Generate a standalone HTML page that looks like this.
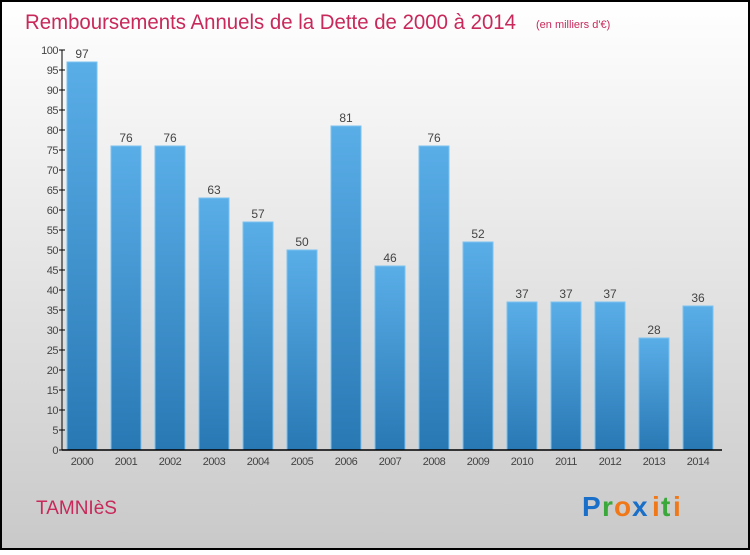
<!DOCTYPE html>
<html><head><meta charset="utf-8"><style>
html,body{margin:0;padding:0}
body{width:750px;height:550px;overflow:hidden;font-family:"Liberation Sans",sans-serif}
</style></head><body>
<svg id="chart" width="750" height="550" xmlns="http://www.w3.org/2000/svg">
<defs>
<linearGradient id="bg" x1="0" y1="0" x2="0" y2="1"><stop offset="0" stop-color="#ffffff"/><stop offset="1" stop-color="#c9c9c9"/></linearGradient>
<linearGradient id="bar" x1="0" y1="0" x2="0" y2="1"><stop offset="0" stop-color="#5aaee8"/><stop offset="1" stop-color="#2878b4"/></linearGradient>
</defs>
<rect x="1" y="1" width="748" height="548" fill="url(#bg)" stroke="#000" stroke-width="2"/>
<text x="25" y="29" font-size="21" fill="#c8285a" textLength="491" lengthAdjust="spacingAndGlyphs">Remboursements Annuels de la Dette de 2000 à 2014</text>
<text x="536" y="28" font-size="11" fill="#c8285a">(en milliers d'€)</text>
<g id="yaxis"></g><g id="bars"></g><g id="xaxis"></g>
<text x="36" y="514" font-size="19" fill="#c8285a">TAMNIèS</text>
<g font-size="28" font-weight="bold" font-family="Liberation Sans, sans-serif">
<text x="582" y="516" fill="#1a6fc8">P</text><text x="602" y="516" fill="#3aa83a">r</text><text x="614" y="516" fill="#f07818">o</text><text x="632" y="516" fill="#1a6fc8">x</text><text x="652" y="516" fill="#f07818">i</text><text x="661" y="516" fill="#3aa83a">t</text><text x="673" y="516" fill="#f07818">i</text>
</g>
</svg>
<script>
const years=["2000","2001","2002","2003","2004","2005","2006","2007","2008","2009","2010","2011","2012","2013","2014"];
const values=[97,76,76,63,57,50,81,46,76,52,37,37,37,28,36];
const yTicks=[0,5,10,15,20,25,30,35,40,45,50,55,60,65,70,75,80,85,90,95,100];
const NS="http://www.w3.org/2000/svg";
const x0=62,x1=722,yb=450,yt=50,step=44;
const y=v=>yb-(v/100)*(yb-yt);
const xc=i=>x0+20+i*step;
function mk(t,a,p,txt){const e=document.createElementNS(NS,t);for(const k in a)e.setAttribute(k,a[k]);if(txt!==undefined)e.textContent=txt;p.appendChild(e);return e;}
const ya=document.getElementById('yaxis'),ba=document.getElementById('bars'),xa=document.getElementById('xaxis');
const yl=mk('line',{x1:x0,y1:yt,x2:x0,y2:yb,stroke:'#000','stroke-width':1},ya);


yTicks.forEach(v=>{
 const t=mk('line',{x1:x0-3,y1:y(v),x2:x0+3,y2:y(v),stroke:'#000'},ya);
 
 
 const l=mk('text',{x:x0-4,y:y(v)+4,'font-size':11,fill:'#444','text-anchor':'end','letter-spacing':'-0.5'},ya,String(v));
 
 
});
values.forEach((v,i)=>{
 const r=mk('rect',{x:xc(i)-15,y:y(v),width:30,height:yb-y(v),fill:'url(#bar)',stroke:'#7cc2f0','stroke-width':1},ba);
 
 
 const l=mk('text',{x:xc(i),y:y(v)-4,'font-size':12,fill:'#444','text-anchor':'middle'},ba,String(v));
 
 
 const xl=mk('text',{x:xc(i),y:yb+15,'font-size':11,fill:'#444','text-anchor':'middle','letter-spacing':'-0.5'},xa,years[i]);
 
 
});
const xl=mk('line',{x1:x0,y1:yb,x2:x1,y2:yb,stroke:'#000','stroke-width':1.5},xa);


</script>
</body></html>
